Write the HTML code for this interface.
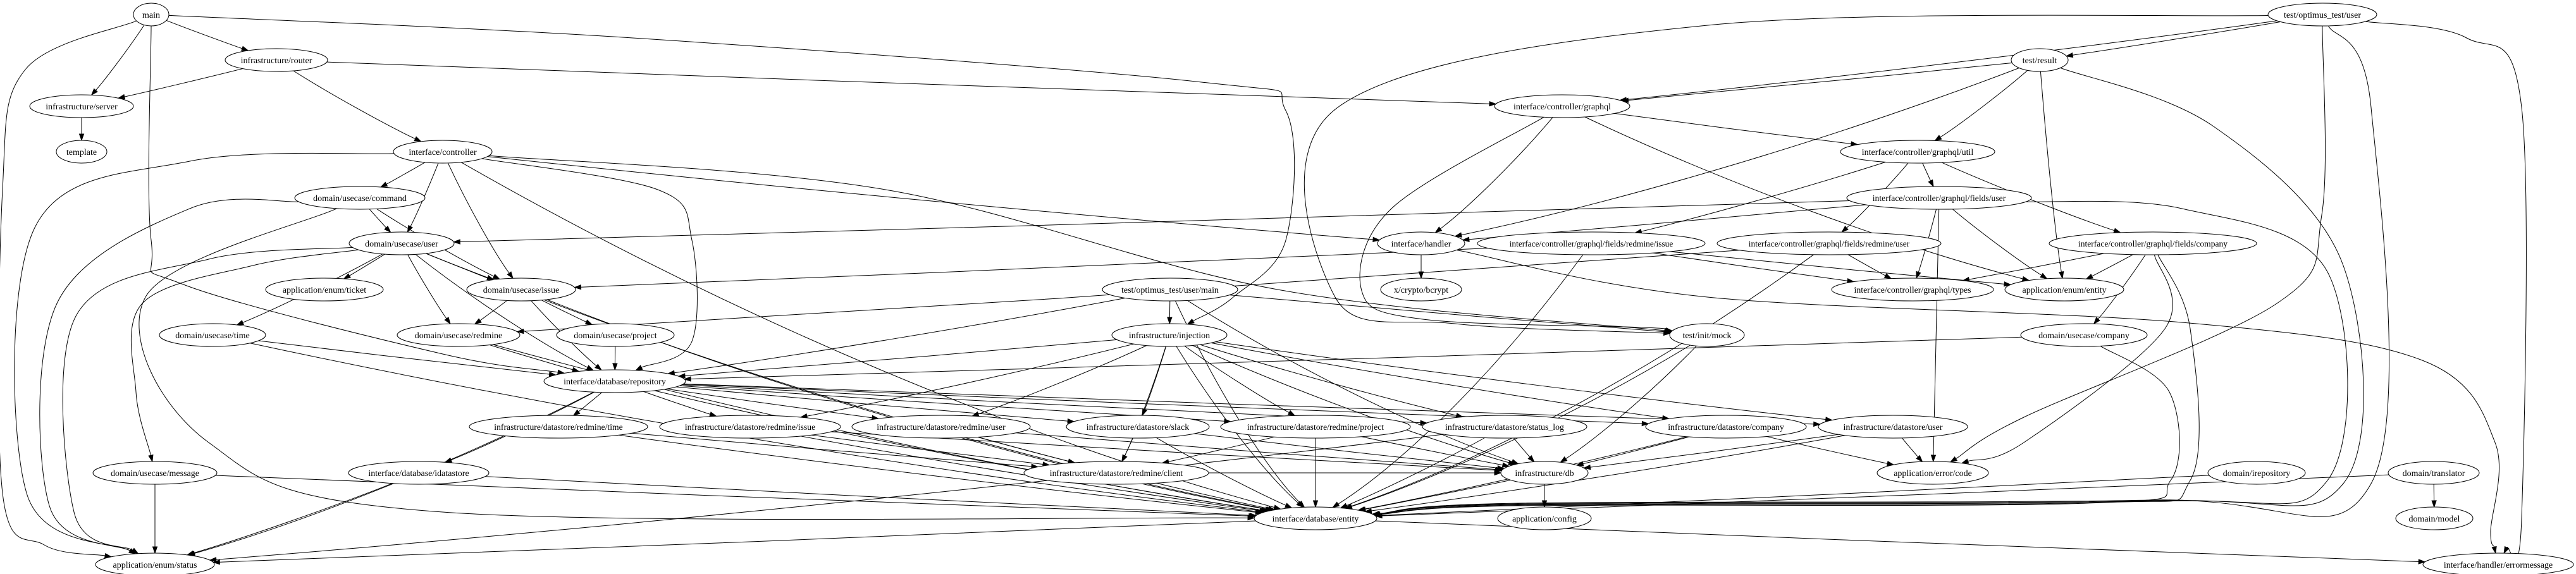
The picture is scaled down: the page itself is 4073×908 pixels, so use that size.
<!DOCTYPE html>
<html><head><meta charset="utf-8"><style>
html,body{margin:0;padding:0;background:#fff;}
svg{display:block;}
text{font-family:"Liberation Serif",serif;font-size:14px;fill:#000;}
ellipse{fill:#fff;stroke:#000;stroke-width:1;}
</style></head><body>
<svg id="g" width="4073" height="908" viewBox="0 0 4073 908" xmlns="http://www.w3.org/2000/svg">
<g id="edges" fill="none" stroke="#000" stroke-width="1"></g>
<g id="arrows" fill="#000" stroke="#000" stroke-width="1"></g>
<g id="nodes">
<g id="main"><ellipse cx="239" cy="23" rx="28" ry="18"/><text x="239" y="28" text-anchor="middle">main</text></g>
<g id="router"><ellipse cx="437" cy="95" rx="81" ry="18"/><text x="437" y="100" text-anchor="middle">infrastructure/router</text></g>
<g id="server"><ellipse cx="129" cy="168" rx="82" ry="18"/><text x="129" y="173" text-anchor="middle">infrastructure/server</text></g>
<g id="template"><ellipse cx="129" cy="240" rx="40" ry="18"/><text x="129" y="245" text-anchor="middle">template</text></g>
<g id="ctrl"><ellipse cx="700" cy="240" rx="78" ry="18"/><text x="700" y="245" text-anchor="middle">interface/controller</text></g>
<g id="cmd"><ellipse cx="569" cy="313" rx="103" ry="18"/><text x="569" y="318" text-anchor="middle">domain/usecase/command</text></g>
<g id="uuser"><ellipse cx="635" cy="385" rx="83" ry="18"/><text x="635" y="390" text-anchor="middle">domain/usecase/user</text></g>
<g id="ticket"><ellipse cx="513" cy="458" rx="93" ry="18"/><text x="513" y="463" text-anchor="middle">application/enum/ticket</text></g>
<g id="uissue"><ellipse cx="824" cy="458" rx="86" ry="18"/><text x="824" y="463" text-anchor="middle">domain/usecase/issue</text></g>
<g id="utime"><ellipse cx="336" cy="530" rx="84" ry="18"/><text x="336" y="535" text-anchor="middle">domain/usecase/time</text></g>
<g id="uredmine"><ellipse cx="725" cy="530" rx="97" ry="18"/><text x="725" y="535" text-anchor="middle">domain/usecase/redmine</text></g>
<g id="uproject"><ellipse cx="973" cy="530" rx="93" ry="18"/><text x="973" y="535" text-anchor="middle">domain/usecase/project</text></g>
<g id="repo"><ellipse cx="972" cy="603" rx="112" ry="18"/><text x="972" y="608" text-anchor="middle">interface/database/repository</text></g>
<g id="drtime"><ellipse cx="883" cy="675" rx="141" ry="18"/><text x="883" y="680" text-anchor="middle">infrastructure/datastore/redmine/time</text></g>
<g id="umsg"><ellipse cx="245" cy="748" rx="98" ry="18"/><text x="245" y="753" text-anchor="middle">domain/usecase/message</text></g>
<g id="idata"><ellipse cx="662" cy="748" rx="111" ry="18"/><text x="662" y="753" text-anchor="middle">interface/database/idatastore</text></g>
<g id="status"><ellipse cx="245" cy="893" rx="94" ry="18"/><text x="245" y="898" text-anchor="middle">application/enum/status</text></g>
<g id="tmain"><ellipse cx="1850" cy="458" rx="107" ry="18"/><text x="1850" y="463" text-anchor="middle">test/optimus_test/user/main</text></g>
<g id="inj"><ellipse cx="1849" cy="530" rx="91" ry="18"/><text x="1849" y="535" text-anchor="middle">infrastructure/injection</text></g>
<g id="drissue"><ellipse cx="1186" cy="675" rx="143" ry="18"/><text x="1186" y="680" text-anchor="middle">infrastructure/datastore/redmine/issue</text></g>
<g id="druser"><ellipse cx="1488" cy="675" rx="141" ry="18"/><text x="1488" y="680" text-anchor="middle">infrastructure/datastore/redmine/user</text></g>
<g id="slack"><ellipse cx="1799" cy="675" rx="113" ry="18"/><text x="1799" y="680" text-anchor="middle">infrastructure/datastore/slack</text></g>
<g id="drproject"><ellipse cx="2080" cy="675" rx="150" ry="18"/><text x="2080" y="680" text-anchor="middle">infrastructure/datastore/redmine/project</text></g>
<g id="client"><ellipse cx="1765" cy="748" rx="146" ry="18"/><text x="1765" y="753" text-anchor="middle">infrastructure/datastore/redmine/client</text></g>
<g id="db"><ellipse cx="2442" cy="748" rx="69" ry="18"/><text x="2442" y="753" text-anchor="middle">infrastructure/db</text></g>
<g id="entity"><ellipse cx="2080" cy="820" rx="97" ry="18"/><text x="2080" y="825" text-anchor="middle">interface/database/entity</text></g>
<g id="config"><ellipse cx="2442" cy="820" rx="74" ry="18"/><text x="2442" y="825" text-anchor="middle">application/config</text></g>
<g id="gql"><ellipse cx="2470" cy="168" rx="107" ry="18"/><text x="2470" y="173" text-anchor="middle">interface/controller/graphql</text></g>
<g id="util"><ellipse cx="3032" cy="240" rx="122" ry="18"/><text x="3032" y="245" text-anchor="middle">interface/controller/graphql/util</text></g>
<g id="fuser"><ellipse cx="3066" cy="313" rx="146" ry="18"/><text x="3066" y="318" text-anchor="middle">interface/controller/graphql/fields/user</text></g>
<g id="handler"><ellipse cx="2247" cy="385" rx="69" ry="18"/><text x="2247" y="390" text-anchor="middle">interface/handler</text></g>
<g id="frissue"><ellipse cx="2516" cy="385" rx="180" ry="18"/><text x="2516" y="390" text-anchor="middle">interface/controller/graphql/fields/redmine/issue</text></g>
<g id="fruser"><ellipse cx="2892" cy="385" rx="177" ry="18"/><text x="2892" y="390" text-anchor="middle">interface/controller/graphql/fields/redmine/user</text></g>
<g id="fcompany"><ellipse cx="3404" cy="385" rx="164" ry="18"/><text x="3404" y="390" text-anchor="middle">interface/controller/graphql/fields/company</text></g>
<g id="bcrypt"><ellipse cx="2247" cy="458" rx="64" ry="18"/><text x="2247" y="463" text-anchor="middle">x/crypto/bcrypt</text></g>
<g id="types"><ellipse cx="3024" cy="458" rx="128" ry="18"/><text x="3024" y="463" text-anchor="middle">interface/controller/graphql/types</text></g>
<g id="eentity"><ellipse cx="3264" cy="458" rx="94" ry="18"/><text x="3264" y="463" text-anchor="middle">application/enum/entity</text></g>
<g id="mock"><ellipse cx="2699" cy="530" rx="59" ry="18"/><text x="2699" y="535" text-anchor="middle">test/init/mock</text></g>
<g id="ucompany"><ellipse cx="3295" cy="530" rx="100" ry="18"/><text x="3295" y="535" text-anchor="middle">domain/usecase/company</text></g>
<g id="slog"><ellipse cx="2379" cy="675" rx="130" ry="18"/><text x="2379" y="680" text-anchor="middle">infrastructure/datastore/status_log</text></g>
<g id="dcompany"><ellipse cx="2729" cy="675" rx="127" ry="18"/><text x="2729" y="680" text-anchor="middle">infrastructure/datastore/company</text></g>
<g id="duser"><ellipse cx="2993" cy="675" rx="118" ry="18"/><text x="2993" y="680" text-anchor="middle">infrastructure/datastore/user</text></g>
<g id="errcode"><ellipse cx="3056" cy="748" rx="88" ry="18"/><text x="3056" y="753" text-anchor="middle">application/error/code</text></g>
<g id="tuser"><ellipse cx="3672" cy="23" rx="86" ry="18"/><text x="3672" y="28" text-anchor="middle">test/optimus_test/user</text></g>
<g id="result"><ellipse cx="3225" cy="95" rx="45" ry="18"/><text x="3225" y="100" text-anchor="middle">test/result</text></g>
<g id="irepo"><ellipse cx="3568" cy="748" rx="77" ry="18"/><text x="3568" y="753" text-anchor="middle">domain/irepository</text></g>
<g id="translator"><ellipse cx="3848" cy="748" rx="72" ry="18"/><text x="3848" y="753" text-anchor="middle">domain/translator</text></g>
<g id="model"><ellipse cx="3849" cy="820" rx="61" ry="18"/><text x="3849" y="825" text-anchor="middle">domain/model</text></g>
<g id="errmsg"><ellipse cx="3950" cy="893" rx="119" ry="18"/><text x="3950" y="898" text-anchor="middle">interface/handler/errormessage</text></g>
</g>
</svg>
<script>
(function(){
var E=[
"main status|40,110 4,300 4,780 70,862","main server","main router","main repo|239,380 290,450 700,560","main inj|1000,60 1900,130 2033,175 2033,380 1950,470",
"router server","router ctrl","router gql","server template",
"ctrl status|300,255 55,360 42,780","ctrl cmd","ctrl uuser","ctrl uissue","ctrl repo|1040,300 1094,380 1094,540","ctrl handler","ctrl mock|1400,300 2020,458","ctrl entity",
"cmd uuser","cmd uissue","cmd status|300,330 90,480 78,800","cmd entity|230,470 330,700 700,810",
"uuser ticket","uuser uissue","uuser uredmine","uuser utime","uuser umsg|400,420 225,480 215,620","uuser status|330,410 120,500 117,810","uuser repo","uuser entity",
"uissue uredmine","uissue uproject","uissue repo","uissue entity",
"utime repo","utime entity","uredmine repo","uredmine entity","uproject repo",
"repo drtime","repo drissue","repo druser","repo slack","repo drproject","repo slog","repo dcompany","repo duser","repo idata","repo status","repo entity",
"inj repo","inj drissue","inj druser","inj slack","inj drproject","inj slog","inj dcompany","inj duser","inj client","inj db","inj entity",
"tmain inj","tmain repo","tmain mock","tmain db","tmain entity",
"drtime client","drtime entity","drissue client","drissue entity","drissue db","druser client","druser entity","druser db",
"slack client","slack db","slack entity","drproject client","drproject entity","drproject db",
"slog db","slog entity","slog status","dcompany db","dcompany entity","dcompany errcode","duser db","duser entity","duser errcode",
"client db","umsg status","umsg entity","idata status","idata entity","db config","db entity","entity status","entity errmsg",
"gql util","gql handler","gql eentity","gql mock|2200,330 2153,460 2250,505 2600,518",
"util fuser","util frissue","util fruser","util fcompany",
"fuser uuser","fuser types","fuser eentity","fuser handler","fuser entity|3450,330 3680,430 3680,760 3400,793 2400,798","fuser errcode",
"frissue uissue","frissue types","frissue eentity","frissue entity",
"fruser uredmine","fruser types","fruser entity",
"fcompany types","fcompany eentity","fcompany ucompany","fcompany errcode|3423,520 3200,700","fcompany entity|3463,520 3463,760 3300,795 2400,799",
"handler bcrypt","handler errmsg|2700,470 3450,510 3830,570 3945,700 3938,840","mock entity","mock db",
"result gql","result util","result handler","result eentity","result entity|3500,200 3705,420 3705,765 3400,792 2400,797",
"tuser result","tuser gql","tuser errmsg|3900,60 3987,170 3987,820","tuser entity|3749,170 3749,765 3400,791 2400,796","tuser errcode|3671,340 3600,480 3200,660","tuser mock|2700,40 2115,170 2111,470 2300,512",
"ucompany repo","ucompany entity|3430,620 3432,760 3300,796 2400,800","irepo entity","translator model","translator entity"];
var NS="http://www.w3.org/2000/svg";
function N(id){var e=document.querySelector('#'+id+' ellipse');return {x:+e.getAttribute('cx'),y:+e.getAttribute('cy'),rx:+e.getAttribute('rx'),ry:18};}
function bnd(n,tx,ty){var dx=tx-n.x,dy=ty-n.y;var t=1/Math.sqrt(dx*dx/(n.rx*n.rx)+dy*dy/(n.ry*n.ry));return {x:n.x+dx*t,y:n.y+dy*t};}
var eg=document.getElementById('edges'),ag=document.getElementById('arrows');
function f(v){return v.toFixed(1);}
E.forEach(function(s){var parts=s.split('|');var p=parts[0].split(' '),a=N(p[0]),b=N(p[1]);
 var wps=[];if(parts[1]){parts[1].split(' ').forEach(function(q){var c=q.split(',');wps.push({x:+c[0],y:+c[1]});});}
 var d,p0,p3,dx,dy,e;
 if(wps.length==0){
  var dxr=b.x-a.x,dyr=b.y-a.y;
  var bend=Math.min(0.12,Math.abs(dyr)/3000);
  var c1={x:a.x+dxr*0.33,y:a.y+dyr*(0.33+bend)},c2={x:a.x+dxr*0.67,y:a.y+dyr*(0.67+bend)};
  p0=bnd(a,c1.x,c1.y);p3=bnd(b,c2.x,c2.y);
  dx=p3.x-c2.x;dy=p3.y-c2.y;var L=Math.sqrt(dx*dx+dy*dy)||1;dx/=L;dy/=L;
  e={x:p3.x-dx*10,y:p3.y-dy*10};
  d='M'+f(p0.x)+','+f(p0.y)+' C'+f(c1.x)+','+f(c1.y)+' '+f(c2.x)+','+f(c2.y)+' '+f(e.x)+','+f(e.y);
 } else {
  p0=bnd(a,wps[0].x,wps[0].y);var lw=wps[wps.length-1];p3=bnd(b,lw.x,lw.y);
  dx=p3.x-lw.x;dy=p3.y-lw.y;var L=Math.sqrt(dx*dx+dy*dy)||1;dx/=L;dy/=L;
  e={x:p3.x-dx*10,y:p3.y-dy*10};
  var pts=[p0].concat(wps).concat([e]);
  d='M'+f(p0.x)+','+f(p0.y);
  for(var i=0;i<pts.length-1;i++){
   var P0=pts[Math.max(0,i-1)],P1=pts[i],P2=pts[i+1],P3=pts[Math.min(pts.length-1,i+2)];
   var q1={x:P1.x+(P2.x-P0.x)/6,y:P1.y+(P2.y-P0.y)/6},q2={x:P2.x-(P3.x-P1.x)/6,y:P2.y-(P3.y-P1.y)/6};
   d+=' C'+f(q1.x)+','+f(q1.y)+' '+f(q2.x)+','+f(q2.y)+' '+f(P2.x)+','+f(P2.y);
  }
 }
 var path=document.createElementNS(NS,'path');path.setAttribute('d',d);eg.appendChild(path);
 var px=-dy*3.5,py=dx*3.5;
 var pg=document.createElementNS(NS,'polygon');
 pg.setAttribute('points',f(p3.x)+','+f(p3.y)+' '+f(e.x+px)+','+f(e.y+py)+' '+f(e.x-px)+','+f(e.y-py));
 ag.appendChild(pg);
});
document.querySelectorAll('#nodes g').forEach(function(g){var el=g.querySelector('ellipse'),t=g.querySelector('text');var rx=+el.getAttribute('rx');var target=2*rx/1.414+4;try{var w=t.getComputedTextLength();if(w>target&&rx>45){t.setAttribute('textLength',target.toFixed(1));t.setAttribute('lengthAdjust','spacingAndGlyphs');}}catch(e){}});
})();
</script>
</body></html>
